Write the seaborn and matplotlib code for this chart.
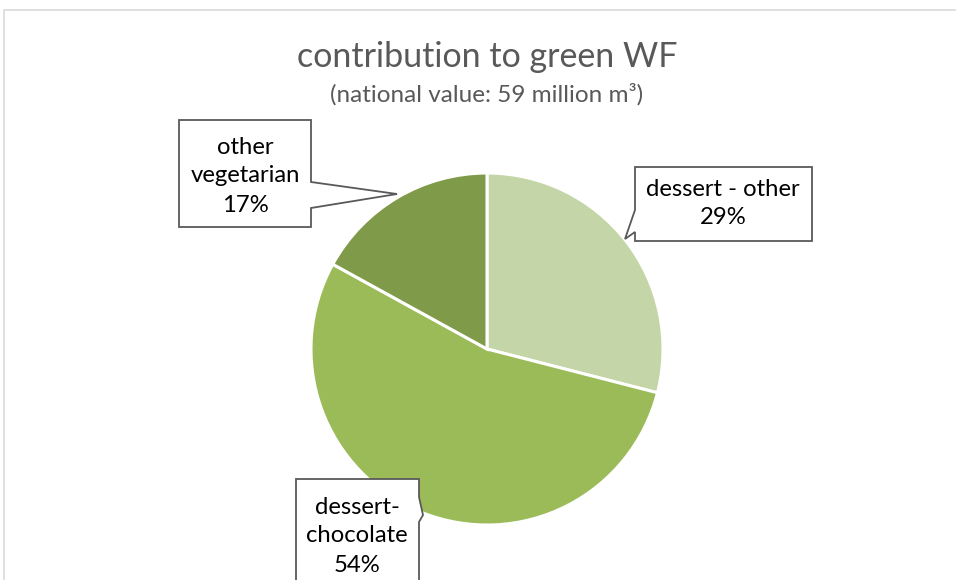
import matplotlib
matplotlib.use("Agg")
import matplotlib.pyplot as plt
from matplotlib.patches import Polygon
import seaborn as sns

# Share of green water footprint by category
categories = ["dessert - other", "dessert-\nchocolate", "other\nvegetarian"]
shares = [29, 54, 17]
colors = ["#c4d6a8", "#9bbb59", "#7f9a48"]

title = "contribution to green WF"
subtitle = "(national value: 59 million m\u00b3)"

sns.set_theme(style="white")
plt.rcParams["font.family"] = ["Lato", "DejaVu Sans"]

W, H = 956, 580
fig = plt.figure(figsize=(W / 100, H / 100), dpi=100)
ax = fig.add_axes([0, 0, 1, 1])


def Y(y):
    return H - y


cx, cy, r = 487, 349, 176
ax.pie(shares, colors=colors, startangle=90, counterclock=False,
       center=(cx, Y(cy)), radius=r, frame=True,
       wedgeprops=dict(edgecolor="white", linewidth=2.2))
ax.set_xlim(0, W)
ax.set_ylim(0, H)
ax.set_aspect("equal")
ax.axis("off")

# chart frame (cropped on the right and bottom)
ax.plot([4, 4, W], [Y(H), Y(10), Y(10)], color="#d9d9d9", lw=1.2)

ax.text(487, Y(57), title, ha="center", va="center", fontsize=24.5, color="#595959")
ax.text(487, Y(94), subtitle, ha="center", va="center", fontsize=17.5, color="#595959")

# callout boxes with pointers
callouts = [
    # (outline points, text centre x, first line y)
    ([(635, 167), (812, 167), (812, 241), (635, 241), (635, 232), (625, 239), (635, 210)],
     723, 189),
    ([(296, 479), (419, 479), (419, 497), (423, 515), (419, 522), (419, 600), (296, 600)],
     357, 507),
    ([(179, 120), (311, 120), (311, 182), (397, 194), (311, 208), (311, 227), (179, 227)],
     245, 147),
]
step = 29
for (pts, tx, ty), cat, val in zip(callouts, categories, shares):
    poly = Polygon([(x, Y(y)) for x, y in pts], closed=True, facecolor="white",
                   edgecolor="#595959", lw=1.3, zorder=5)
    ax.add_patch(poly)
    lines = cat.split("\n") + [f"{val}%"]
    for i, line in enumerate(lines):
        ax.text(tx, Y(ty + i * step), line, ha="center", va="center",
                fontsize=17.2, color="black", zorder=6)

fig.savefig("out.png", dpi=100, facecolor="white")
